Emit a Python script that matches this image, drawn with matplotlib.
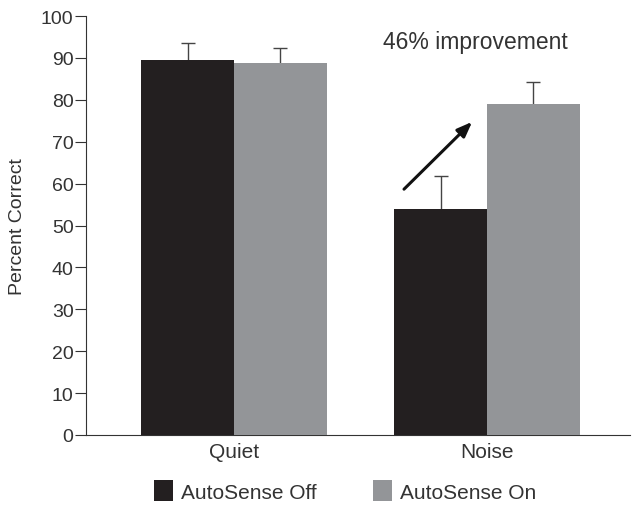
import matplotlib.pyplot as plt
import numpy as np

'''Données'''
conditions = ['Quiet', 'Noise']
series = ['AutoSense Off', 'AutoSense On']
off_vals = [89.6, 53.9]
off_err = [4.0, 7.9]
on_vals = [88.9, 79.0]
on_err = [3.4, 5.2]
colors = ['#231f20', '#939598']
txt = '#333333'

plt.rcParams['font.family'] = ['Liberation Sans', 'DejaVu Sans']

'''Figure'''
fig = plt.figure(figsize=(6.36, 5.06), dpi=100)
ax = fig.add_axes([86 / 636, 1 - 436 / 506, 544 / 636, 419 / 506])

x = np.arange(len(conditions))
w = 0.367
ax.bar(x - w / 2, off_vals, w, color=colors[0], label=series[0], zorder=3)
ax.bar(x + w / 2, on_vals, w, color=colors[1], label=series[1], zorder=3)
# barres d'erreur derrière les barres : seule la partie haute est visible
ax.errorbar(x - w / 2, off_vals, yerr=off_err, fmt='none', ecolor='#444444',
            elinewidth=1, capsize=5, capthick=1, zorder=2)
ax.errorbar(x + w / 2, on_vals, yerr=on_err, fmt='none', ecolor='#444444',
            elinewidth=1, capsize=5, capthick=1, zorder=2)

ax.set_xlim(-0.585, 1.565)
ax.set_ylim(0, 100)
ax.set_yticks(np.arange(0, 101, 10))
ax.set_xticks(x)
ax.set_xticklabels(conditions)
ax.tick_params(axis='y', length=8, width=0.8, color='#333333', labelsize=14,
               labelcolor=txt, pad=1)
ax.tick_params(axis='x', length=0, labelsize=15, labelcolor=txt, pad=5)
for s in ['top', 'right']:
    ax.spines[s].set_visible(False)
for s in ['left', 'bottom']:
    ax.spines[s].set_linewidth(0.8)
    ax.spines[s].set_color('#333333')
ax.set_ylabel('Percent Correct', fontsize=14, color=txt, labelpad=11)

'''Flèche et annotation'''
ax.annotate('', xy=(0.949, 75.2), xytext=(0.664, 58.2),
            arrowprops=dict(arrowstyle='-|>,head_length=0.9,head_width=0.35',
                            color='#111111', lw=2.2), zorder=4)
ax.text(0.953, 93.8, '46% improvement', ha='center', va='center',
        fontsize=16.5, color=txt)

'''Légende'''
fig.legend(loc='center', bbox_to_anchor=(345 / 636, 14 / 506), ncol=2,
           frameon=False, fontsize=15, handlelength=0.9, handleheight=1.15,
           columnspacing=2.7, handletextpad=0.4, labelcolor=txt)

plt.savefig('out.png', dpi=100)
